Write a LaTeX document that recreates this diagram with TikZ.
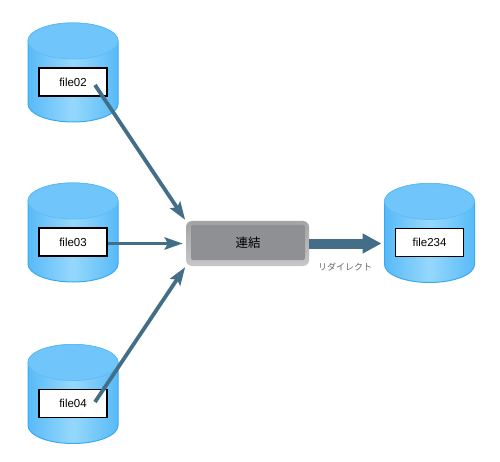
\documentclass[tikz,border=0pt]{standalone}
\usepackage{fontspec}
\setmainfont{Liberation Sans}
\newfontfamily\cjkfont{Noto Sans CJK JP}
\usepackage{xcolor}
\definecolor{dbblue}{RGB}{56, 170, 245}
\definecolor{dbmid}{RGB}{88, 186, 248}
\definecolor{dblight}{RGB}{150, 216, 252}
\definecolor{dbface}{RGB}{112, 198, 250}
\definecolor{arrblue}{RGB}{68, 110, 135}
\definecolor{boxgray}{RGB}{143, 144, 148}
\usetikzlibrary{arrows.meta, positioning, shapes.geometric}

\begin{document}
\begin{tikzpicture}[
    x=1pt, y=-1pt,
    dbzone/.style={minimum width=90pt, minimum height=99pt, inner sep=0pt, outer sep=0pt},
    dbbody/.style={draw=dbblue, line width=1pt, left color=dbmid, right color=dbmid,
                   middle color=dblight},
    dbtop/.style={ellipse, draw=dbblue!80!white, line width=0.8pt, fill=dbface,
                  minimum width=90pt, minimum height=36pt,
                  inner sep=0pt, outer sep=0pt},
    dblabel/.style={draw=black, line width=1.3pt, fill=white, minimum width=68pt,
                    minimum height=28pt, inner sep=0pt, font=\fontsize{11.5}{13}\selectfont},
    joinout/.style={rounded corners=6pt, top color=black!36, bottom color=black!22,
                    minimum width=123pt, minimum height=45pt, inner sep=0pt},
    joinin/.style={rounded corners=2pt, fill=boxgray, minimum width=114pt,
                   minimum height=35pt, inner sep=0pt,
                   font=\cjkfont\fontsize{12.5}{14}\selectfont},
    arr/.style={-{Stealth[length=18pt, width=12pt, inset=3pt]}, arrblue, line width=3.8pt},
    bigarr/.style={-{Triangle[length=19pt, width=19pt]}, arrblue, line width=10pt}
  ]
  \useasboundingbox (0,0) rectangle (500,462);

  % disks
  \foreach \nm/\xx/\yy in {file02/73/72.5, file03/73/232.5, file04/73/394, file234/429.5/233}{
    \node[dbzone] (cyl\nm) at (\xx,\yy) {};
    \draw[dbbody] (\xx-45,\yy-31.5) -- (\xx-45,\yy+31.5)
      arc[start angle=180, end angle=360, x radius=45pt, y radius=18pt]
      -- (\xx+45,\yy-31.5) arc[start angle=0, end angle=180, x radius=45pt, y radius=18pt] -- cycle;
    \node[dbtop] (top\nm) at (\xx,\yy-31.5) {};
    \node[dblabel] (\nm) at (\xx,\yy+9.5) {\nm};
  }

  \node[joinout] (joinbox) at (247.5,243.5) {};
  \node[joinin] (joinface) at (248,242.5) {連結};
  \node[font=\cjkfont\fontsize{9}{11}\selectfont, text=black!60, inner sep=0pt,
        anchor=west] (redir) at (318,266.5) {リダイレクト};

  \coordinate (start02) at (95,85);
  \coordinate (start04) at (95,402);

  \draw[arr, shorten >=1pt] (start02) -- (joinbox.north west);
  \draw[arr, shorten >=3pt] (joinbox.west -| file03.east) -- (joinbox.west);
  \draw[arr, shorten >=1pt] (start04) -- (joinbox.south west);
  \draw[bigarr, shorten >=3pt] (joinbox.east) -- (joinbox.east -| cylfile234.west);
\end{tikzpicture}
\end{document}
